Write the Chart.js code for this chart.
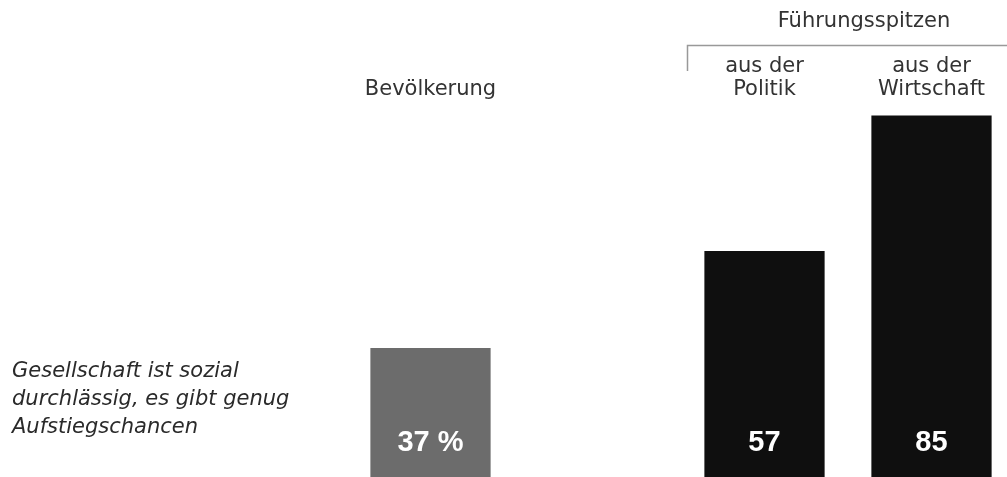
<!DOCTYPE html>
<html>
<head>
<meta charset="utf-8">
<script src="https://cdn.jsdelivr.net/npm/chart.js@4/dist/chart.umd.min.js"></script>
<style>
  html, body { margin: 0; padding: 0; background: #fff; overflow: hidden; }
  #wrap { width: 1015px; height: 527px; }
</style>
</head>
<body>
<div id="wrap"><canvas id="chart" width="1015" height="527"></canvas></div>
<script>
// data
const categories = [['Bevölkerung'], '', ['aus der', 'Politik'], ['aus der', 'Wirtschaft']];
const values = [37, null, 57, 85];
const valueLabels = ['37 %', '', '57', '85'];
const barColors = ['#6c6c6c', '#6c6c6c', '#0f0f0f', '#0f0f0f'];
const groupTitle = 'Führungsspitzen';
const rowLabel = ['Gesellschaft ist sozial', 'durchlässig, es gibt genug', 'Aufstiegschancen'];

const FONT = '"DejaVu Sans", sans-serif';

// extra text: row label on the left, values in bars, group bracket
const annotations = {
    id: 'annotations',
    afterDatasetsDraw(chart) {
        const c = chart.ctx;
        c.save();

        // left italic label
        c.fillStyle = '#2a2a2a';
        c.font = 'italic 21px ' + FONT;
        c.textAlign = 'left';
        c.textBaseline = 'middle';
        rowLabel.forEach((line, i) => {
            c.fillText(line, 12, 372 + i * 28);
        });

        // numbers inside the bars
        c.fillStyle = '#ffffff';
        c.font = 'bold 29px "Liberation Sans", Arial, sans-serif';
        c.textAlign = 'center';
        const meta = chart.getDatasetMeta(0);
        meta.data.forEach((bar, i) => {
            if (values[i] == null) return;
            c.fillText(valueLabels[i], bar.x, 443);
        });

        // group title and bracket
        c.fillStyle = '#333';
        c.font = '21px ' + FONT;
        c.fillText(groupTitle, 864, 22);
        c.strokeStyle = '#999';
        c.lineWidth = 1.5;
        c.beginPath();
        c.moveTo(687.5, 71);
        c.lineTo(687.5, 45.5);
        c.lineTo(1015, 45.5);
        c.stroke();

        c.restore();
    }
};

new Chart(document.getElementById('chart'), {
    type: 'bar',
    data: {
        labels: categories,
        datasets: [{
            data: values,
            backgroundColor: barColors,
            borderWidth: 0,
            barPercentage: 0.72,
            categoryPercentage: 1
        }]
    },
    options: {
        responsive: false,
        animation: false,
        layout: {
            padding: { left: 347, right: 0, top: 0, bottom: 0 }
        },
        plugins: {
            legend: { display: false },
            tooltip: { enabled: false }
        },
        scales: {
            x: {
                position: 'top',
                grid: { display: false, drawTicks: false },
                border: { display: false },
                ticks: {
                    color: '#333',
                    padding: 0,
                    maxRotation: 0,
                    autoSkip: false,
                    font: { family: FONT, size: 21, lineHeight: 1.1 }
                },
                afterFit: (axis) => { axis.height = 101; }
            },
            y: {
                display: false,
                min: 0,
                max: 88
            }
        }
    },
    plugins: [annotations]
});
</script>
</body>
</html>
